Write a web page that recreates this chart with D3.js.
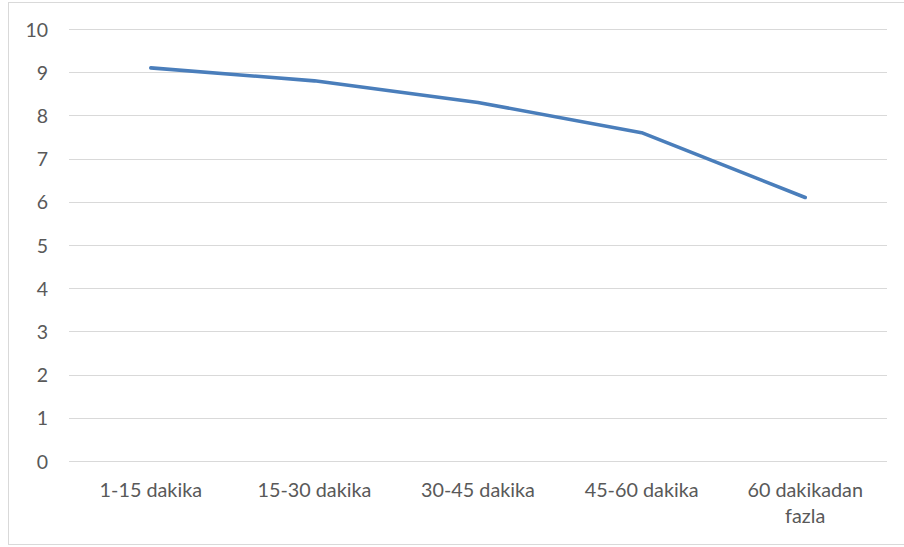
<!DOCTYPE html>
<html>
<head>
<meta charset="utf-8">
<script src="https://cdn.jsdelivr.net/npm/d3@7"></script>
<style>
  html, body { margin: 0; padding: 0; background: #fff; }
  svg { display: block; }
  text { font-family: Lato, "Open Sans", sans-serif; fill: #595959; }
</style>
</head>
<body>
<svg id="chart" width="904" height="547"></svg>
<script>
// Categories (time spent) and the mean score for each
const categories = ["1-15 dakika", "15-30 dakika", "30-45 dakika", "45-60 dakika", "60 dakikadan fazla"];
const values = [9.1, 8.8, 8.3, 7.6, 6.1];
const yTicks = [0, 1, 2, 3, 4, 5, 6, 7, 8, 9, 10];

const svg = d3.select("#chart");
const W = 904, H = 547;
const plot = { left: 69, right: 887, top: 29, bottom: 461 };

// Outer chart frame
svg.append("rect")
  .attr("x", 8.5).attr("y", 2.5)
  .attr("width", W).attr("height", 542)
  .attr("fill", "#fff").attr("stroke", "#d9d9d9").attr("stroke-width", 1);

const x = d3.scaleBand().domain(categories).range([plot.left, plot.right]);
const y = d3.scaleLinear().domain([0, 10]).range([plot.bottom, plot.top]);

// Horizontal gridlines
svg.append("g").selectAll("line").data(yTicks).join("line")
  .attr("x1", plot.left).attr("x2", plot.right)
  .attr("y1", d => Math.round(y(d)) + 0.5).attr("y2", d => Math.round(y(d)) + 0.5)
  .attr("stroke", "#d9d9d9").attr("stroke-width", 1);

// Y axis labels
const yAxis = d3.axisLeft(y).tickValues(yTicks).tickSize(0).tickPadding(0);
const gy = svg.append("g").attr("transform", `translate(48,0)`).call(yAxis);
gy.select(".domain").remove();
gy.selectAll("text")
  .attr("font-size", 19.5).attr("fill", "#595959")
  .style("font-family", "Lato, 'Open Sans', sans-serif")
  .attr("dy", "0.36em");

// Category labels, wrapped to fit the band
const xAxis = d3.axisBottom(x).tickSize(0).tickPadding(0);
const gx = svg.append("g").attr("transform", `translate(0,${plot.bottom})`).call(xAxis);
gx.select(".domain").remove();
gx.selectAll("text").each(function(d) {
  const t = d3.select(this);
  t.text(null).attr("y", 0).attr("dy", null)
    .attr("font-size", 19.8).attr("fill", "#595959")
    .style("font-family", "Lato, 'Open Sans', sans-serif");
  const lines = d === "60 dakikadan fazla" ? ["60 dakikadan", "fazla"] : [d];
  lines.forEach((ln, i) => {
    t.append("tspan").attr("x", 0).attr("y", 36 + i * 26).text(ln);
  });
});

// Series line
const line = d3.line()
  .x((d, i) => x(categories[i]) + x.bandwidth() / 2)
  .y(d => y(d));
svg.append("path")
  .datum(values)
  .attr("d", line)
  .attr("fill", "none")
  .attr("stroke", "#4a7ebb")
  .attr("stroke-width", 3.6)
  .attr("stroke-linecap", "round")
  .attr("stroke-linejoin", "round");
</script>
</body>
</html>
